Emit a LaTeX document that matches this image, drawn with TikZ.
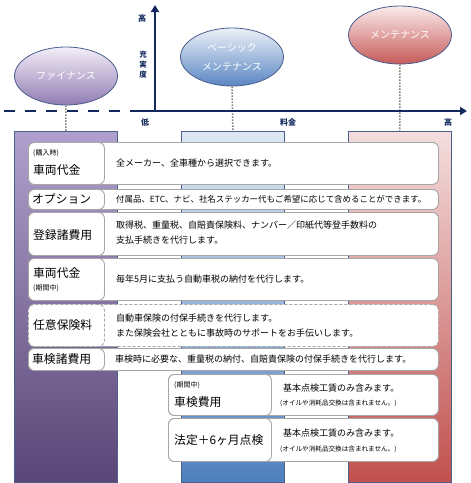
\documentclass[tikz,border=0pt]{standalone}
\usepackage{fontspec}
\setmainfont{Noto Sans CJK JP}
\usetikzlibrary{shapes.geometric,arrows.meta}
\definecolor{axisnavy}{HTML}{13295E}
\definecolor{boxgray}{HTML}{A6A6A6}
\definecolor{colborder}{HTML}{4A5F8C}
\definecolor{dotgray}{HTML}{7F7F7F}
\definecolor{pTop}{RGB}{176,160,205}
\definecolor{pBot}{RGB}{88,70,118}
\definecolor{bTop}{RGB}{222,232,244}
\definecolor{bBot}{RGB}{79,128,190}
\definecolor{rTop}{RGB}{244,222,222}
\definecolor{rBot}{RGB}{192,80,77}
\definecolor{peTop}{RGB}{243,238,247}
\definecolor{peBot}{RGB}{145,124,180}
\definecolor{beTop}{RGB}{236,241,248}
\definecolor{beBot}{RGB}{90,134,194}
\definecolor{reTop}{RGB}{250,236,236}
\definecolor{reBot}{RGB}{198,90,88}
\tikzset{
  colbox/.style={draw=colborder, line width=0.8pt, minimum width=103pt, minimum height=351pt, anchor=north west, inner sep=0},
  ellbox/.style={ellipse, draw=colborder, line width=0.8pt, minimum width=103pt, minimum height=58pt, inner sep=0, text=white, align=center, font=\fontsize{10}{19}\selectfont},
  rowbox/.style={draw=boxgray, fill=white, line width=0.9pt, rounded corners=6pt, anchor=north west, inner sep=0},
  labbox/.style={draw=boxgray, fill=white, line width=0.9pt, rounded corners=6pt, anchor=north west, inner sep=0},
  dashbox/.style={dash pattern=on 3pt off 2pt},
  conn/.style={draw=dotgray, line width=1.5pt, dash pattern=on 1.5pt off 1.5pt},
  labtxt/.style={anchor=west, inner sep=0, font=\fontsize{11.8}{14}\selectfont},
  smalltxt/.style={anchor=west, inner sep=0, font=\fontsize{7}{9}\selectfont},
  bodytxt/.style={anchor=west, inner sep=0, align=left, font=\fontsize{9}{14.5}\selectfont},
  notetxt/.style={anchor=west, inner sep=0, font=\fontsize{6.6}{9}\selectfont},
  axlab/.style={inner sep=0, text=axisnavy, font=\bfseries\fontsize{8}{10}\selectfont},
  axisline/.style={draw=axisnavy, line width=2.8pt}
}
\begin{document}
\begin{tikzpicture}[x=1pt,y=-1pt]
\useasboundingbox (0,0) rectangle (471,483);
% columns
\node[colbox, top color=pTop, bottom color=pBot] (colF) at (14,131) {};
\node[colbox, top color=bTop, bottom color=bBot] (colB) at (181,131) {};
\node[colbox, top color=rTop, bottom color=rBot] (colM) at (348,131) {};
% ellipses
\node[ellbox, top color=peTop, bottom color=peBot] (fin) at (66,76) {ファイナンス};
\node[ellbox, top color=beTop, bottom color=beBot] (bas) at (232,57) {ベーシック\\メンテナンス};
\node[ellbox, top color=reTop, bottom color=reBot] (mnt) at (400,35) {メンテナンス};
% dotted connectors
\draw[conn] (fin.south) -- (colF.north);
\draw[conn] (bas.south) -- (colB.north);
\draw[conn] (mnt.south) -- (colM.north);
% axes
\coordinate (O) at (155,111);
\coordinate (ytop) at (155,5);
\coordinate (xend) at (467,111);
\coordinate (xs) at (132,111);
\coordinate (dl) at (4,111);
\coordinate (dr) at (134,111);
\draw[axisline, dash pattern=on 11pt off 10pt] (dl) -- (dr);
\draw[axisline, -{Triangle[length=7pt,width=8pt]}] (xs) -- (xend);
\draw[axisline, -{Triangle[length=7pt,width=8pt]}] (O) -- (ytop);
\node[axlab] (yhi) at (142,18) {高};
\node[axlab, align=center, font=\bfseries\fontsize{7.5}{10}\selectfont] (yname) at (143,65) {充\\実\\度};
\node[axlab] (xlo) at (145,122) {低};
\node[axlab] (xname) at (288,122) {料金};
\node[axlab] (xhi) at (448,122) {高};
% row 1
\node[rowbox, minimum width=410pt, minimum height=42pt] (r1) at (28,142) {};
\node[labbox, minimum width=76pt, minimum height=42pt] (l1) at (28,142) {};
\node[smalltxt] (l1a) at (33,153) {(購入時)};
\node[labtxt] (l1b) at (33,170) {車両代金};
\node[bodytxt] (t1) at (116,163) {全メーカー、全車種から選択できます。};
% row 2
\node[rowbox, minimum width=410pt, minimum height=20pt] (r2) at (28,189) {};
\node[labbox, minimum width=76pt, minimum height=20pt] (l2) at (28,189) {};
\node[labtxt] (l2a) at (32,199) {オプション};
\node[bodytxt, font=\fontsize{8.45}{14}\selectfont] (t2) at (116,199) {付属品、ETC、ナビ、社名ステッカー代もご希望に応じて含めることができます。};
% row 3
\node[rowbox, minimum width=410pt, minimum height=43pt] (r3) at (28,212) {};
\node[labbox, minimum width=76pt, minimum height=43pt] (l3) at (28,212) {};
\node[labtxt] (l3a) at (33,235) {登録諸費用};
\node[bodytxt] (t3) at (116,232.5) {取得税、重量税、自賠責保険料、ナンバー／印紙代等登手数料の\\支払手続きを代行します。};
% row 4
\node[rowbox, minimum width=410pt, minimum height=42pt] (r4) at (28,258) {};
\node[labbox, minimum width=76pt, minimum height=42pt] (l4) at (28,258) {};
\node[labtxt] (l4a) at (33,273) {車両代金};
\node[smalltxt] (l4b) at (33,288) {(期間中)};
\node[bodytxt] (t4) at (116,279) {毎年5月に支払う自動車税の納付を代行します。};
% row 5 (dashed)
\node[rowbox, dashbox, minimum width=410pt, minimum height=42pt] (r5) at (28,304) {};
\node[labbox, dashbox, minimum width=76pt, minimum height=42pt] (l5) at (28,304) {};
\node[labtxt] (l5a) at (33,325) {任意保険料};
\node[bodytxt] (t5) at (116,325.5) {自動車保険の付保手続きを代行します。\\また保険会社とともに事故時のサポートをお手伝いします。};
% row 6
\node[rowbox, minimum width=410pt, minimum height=22pt] (r6) at (28,348) {};
\node[labbox, minimum width=76pt, minimum height=22pt] (l6) at (28,348) {};
\node[labtxt] (l6a) at (32,359.5) {車検諸費用};
\node[bodytxt] (t6) at (115,359) {車検時に必要な、重量税の納付、自賠責保険の付保手続きを代行します。};
% row 7
\node[rowbox, minimum width=270pt, minimum height=41pt] (r7) at (168,374) {};
\node[labbox, minimum width=103pt, minimum height=41pt] (l7) at (168,374) {};
\node[smalltxt] (l7a) at (174,385) {(期間中)};
\node[labtxt] (l7b) at (174,402) {車検費用};
\node[bodytxt] (t7) at (283,388) {基本点検工賃のみ含みます。};
\node[notetxt] (n7) at (280,403) {(オイルや消耗品交換は含まれません。)};
% row 8
\node[rowbox, minimum width=270pt, minimum height=43pt] (r8) at (168,418) {};
\node[labbox, minimum width=103pt, minimum height=43pt] (l8) at (168,418) {};
\node[labtxt] (l8a) at (174,440) {法定＋6ヶ月点検};
\node[bodytxt] (t8) at (283,433) {基本点検工賃のみ含みます。};
\node[notetxt] (n8) at (280,449) {(オイルや消耗品交換は含まれません。)};
\end{tikzpicture}
\end{document}
